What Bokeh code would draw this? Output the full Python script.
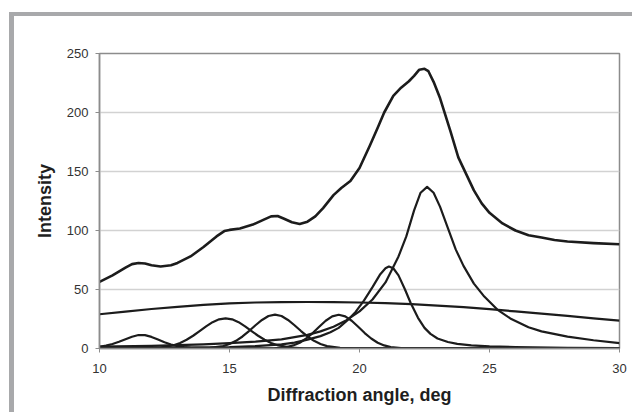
from bokeh.plotting import figure
from bokeh.models import Range1d, FixedTicker
from bokeh.embed import file_html
from bokeh.resources import INLINE

# ---- data ----
total_x = [10, 10.5, 11.0, 11.25, 11.5, 11.75, 12.0, 12.35, 12.75, 13.0, 13.5, 14.0, 14.5, 14.8, 15.0,
           15.4, 15.9, 16.3, 16.6, 16.85, 17.1, 17.4, 17.7, 18.0, 18.3, 18.6, 19.0, 19.3, 19.65, 20.0,
           20.4, 20.7, 20.95, 21.3, 21.6, 21.9, 22.1, 22.3, 22.5, 22.65, 22.85, 23.1, 23.5, 23.8, 24.1,
           24.4, 24.7, 25.0, 25.5, 26.0, 26.5, 27.0, 27.5, 28.0, 29.0, 30.0]
total_y = [56.5, 62, 68.5, 71.5, 72.5, 72, 70.5, 69.5, 70.5, 72.5, 78, 86, 95, 99.5, 100.5,
           101.7, 105, 109, 112, 112.3, 110, 107, 105.5, 107.5, 112, 119, 130, 136, 142, 153,
           172, 187, 200, 214, 221, 226.5, 231, 236.3, 237, 235, 226, 212, 184, 162, 148,
           134, 123, 115, 106, 100, 96, 94, 92, 90.7, 89.3, 88.3]

bg_x = [10, 11, 12, 13, 14, 15, 16, 17, 18, 19, 20, 21, 22, 23, 24, 25, 26, 27, 28, 29, 30]
bg_y = [29, 31.3, 33.5, 35.3, 37, 38.2, 39, 39.3, 39.4, 39.3, 39, 38.5, 37.6, 36.4, 35, 33.3,
        31.4, 29.5, 27.6, 25.6, 23.6]

p1_x = [10, 10.25, 10.5, 10.75, 11, 11.25, 11.5, 11.75, 12, 12.25, 12.5, 12.75, 13, 13.25, 13.5,
        14, 15, 30]
p1_y = [1.5, 2.4, 3.8, 5.7, 7.9, 10, 11.4, 11.3, 9.8, 7.6, 5.3, 3.4, 2, 1.1, 0.6, 0.2, 0, 0]

p2_x = [10, 12, 12.35, 12.85, 13.1, 13.35, 13.6, 13.85, 14.1, 14.35, 14.6, 14.85, 15.1, 15.35,
        15.6, 15.85, 16.1, 16.35, 16.6, 16.85, 17.35, 17.85, 30]
p2_y = [0, 0.3, 0.8, 2.8, 4.7, 7.4, 10.8, 14.7, 18.7, 22.3, 24.7, 25.6, 24.7, 22.3,
        18.7, 14.7, 10.8, 7.4, 4.7, 2.8, 0.8, 0.2, 0]

p3_x = [10, 14.25, 14.75, 15.0, 15.25, 15.5, 15.75, 16.0, 16.25, 16.5, 16.75, 17.0, 17.25, 17.5,
        17.75, 18.0, 18.25, 18.5, 18.75, 19.25, 19.75, 30]
p3_y = [0, 0.5, 2.0, 3.8, 6.5, 10.2, 14.8, 19.7, 24.2, 27.5, 28.7, 27.5, 24.2, 19.7,
        14.8, 10.2, 6.5, 3.8, 2.0, 0.5, 0.1, 0]

p4_x = [10, 16.7, 17.2, 17.45, 17.7, 17.95, 18.2, 18.45, 18.7, 18.95, 19.2, 19.45, 19.7, 19.95,
        20.2, 20.45, 20.7, 20.95, 21.2, 21.7, 30]
p4_y = [0, 0.2, 1.2, 2.6, 4.9, 8.5, 13.1, 18.4, 23.5, 27.2, 28.6, 27.2, 23.5, 18.4,
        13.1, 8.5, 4.9, 2.6, 1.2, 0.2, 0]

p5_x = [10, 15, 16, 17, 17.5, 18, 18.5, 18.88, 19.2, 19.53, 19.85, 20.17, 20.5, 20.8, 21.0, 21.13,
        21.3, 21.5, 21.75, 21.96, 22.25, 22.5, 22.73, 23.0, 23.4, 23.76, 24.3, 25, 26, 28, 30]
p5_y = [0.3, 1.2, 2, 3.5, 5, 7.5, 10.5, 13.8, 17.5, 23.7, 31, 40.6, 52, 63, 68, 69.5,
        68, 62, 50, 39, 26, 17.5, 12.4, 8.5, 5.5, 3.9, 2.6, 1.8, 1.2, 0.6, 0.3]

p6_x = [10, 12, 14, 15, 16, 17, 18, 18.5, 19, 19.5, 20, 20.5, 21, 21.5, 21.8, 22.1, 22.35, 22.6,
        22.85, 23.1, 23.4, 23.7, 24.0, 24.4, 24.8, 25.3, 25.8, 26.5, 27, 28, 29, 30]
p6_y = [1.6, 2.3, 3.5, 4.5, 5.8, 7.8, 11.5, 14.5, 18.5, 24, 31.5, 41.5, 56, 78, 95, 117, 132, 137,
        132, 120, 102, 84, 70, 55, 44, 33, 25.5, 18, 14.5, 10, 7, 4.5]

x_ticks = [10, 15, 20, 25, 30]
y_ticks = [0, 50, 100, 150, 200, 250]
x_title = "Diffraction angle, deg"
y_title = "Intensity"

FONT = "Liberation Sans"
INK = "#1c1c1c"
FRAME_GREY = "#a8a9ab"

p = figure(width=632, height=412, output_backend="svg", toolbar_location=None,
           x_range=Range1d(10, 30), y_range=Range1d(0, 250),
           min_border_left=99, min_border_right=13, min_border_top=53, min_border_bottom=64)
# grey panel frame (top and left bars) of the original figure, painted as the
# element background behind a transparent border area
bar = f"linear-gradient({FRAME_GREY}, {FRAME_GREY})"
p.styles = {"background": f"{bar} 9px 12px / 5px 400px no-repeat, "
                          f"{bar} 9px 12px / 623px 4px no-repeat, #ffffff"}
p.background_fill_color = "white"
p.border_fill_alpha = 0
p.outline_line_color = "#8c8c8c"
p.outline_line_width = 1.5

p.xgrid.visible = False
p.ygrid.grid_line_color = "#d2d2d2"
p.ygrid.grid_line_width = 1.5
p.ygrid.ticker = FixedTicker(ticks=y_ticks)

for ax, ticks in ((p.xaxis[0], x_ticks), (p.yaxis[0], y_ticks)):
    ax.ticker = FixedTicker(ticks=ticks)
    ax.axis_line_color = "#8c8c8c"
    ax.axis_line_width = 1.5
    ax.major_tick_line_color = "#8c8c8c"
    ax.major_tick_out = 4
    ax.major_tick_in = 0
    ax.minor_tick_line_color = None
    ax.major_label_text_font = FONT
    ax.major_label_text_font_size = "13px"
    ax.major_label_text_color = "#333333"
    ax.axis_label_text_font = FONT
    ax.axis_label_text_font_style = "bold"
    ax.axis_label_text_font_size = "18px"
    ax.axis_label_text_color = "#1e1e1e"

p.xaxis.axis_label = x_title
p.yaxis.axis_label = y_title
p.yaxis.major_label_standoff = 7
p.xaxis.major_label_standoff = 11
p.xaxis.axis_label_standoff = 9
p.yaxis.axis_label_standoff = 9

for xs, ys in ((bg_x, bg_y), (p1_x, p1_y), (p2_x, p2_y), (p3_x, p3_y),
               (p4_x, p4_y), (p5_x, p5_y), (p6_x, p6_y)):
    p.line(xs, ys, line_color=INK, line_width=2.2, line_join="round")
p.line(total_x, total_y, line_color=INK, line_width=2.6, line_join="round")

open("out.html", "w").write(file_html(p, INLINE))
